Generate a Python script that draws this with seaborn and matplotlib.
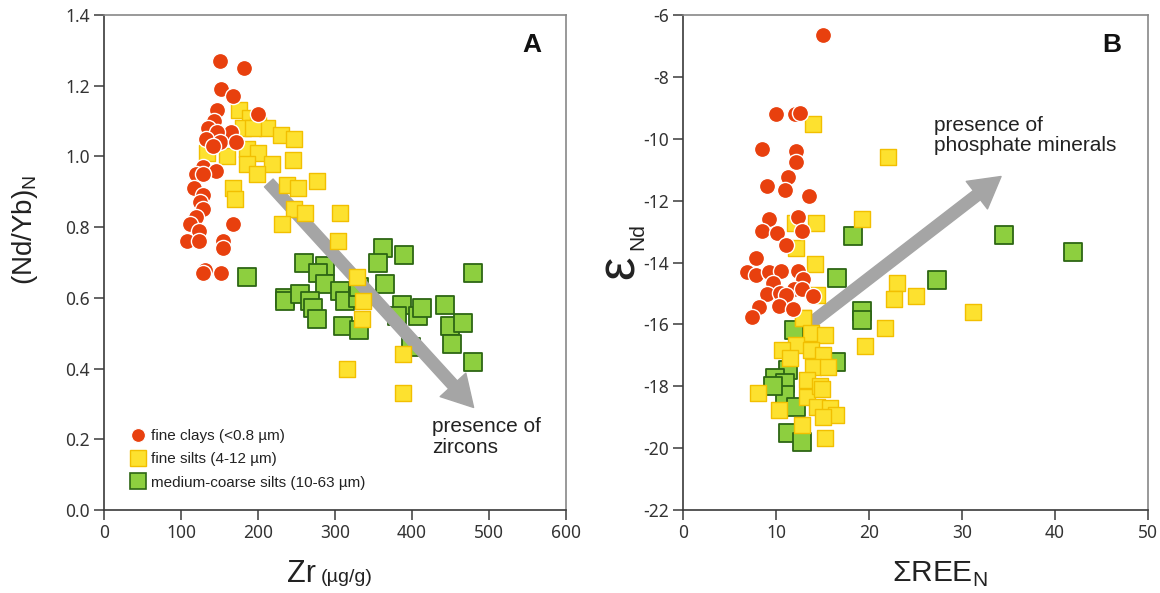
import matplotlib
matplotlib.use("Agg")
import matplotlib.pyplot as plt
import seaborn as sns
import pandas as pd
from matplotlib.lines import Line2D

sns.set_style("white")
plt.rcParams['font.family'] = ['Liberation Sans', 'DejaVu Sans']
plt.rcParams['axes.unicode_minus'] = False

# ---------------- data ----------------
zr_clay = [151, 182, 152, 167, 147, 200, 143, 135, 165, 147, 132, 151, 171, 142, 129, 145, 120,
           129, 117, 129, 125, 129, 120, 167, 112, 123, 108, 123, 155, 155, 131, 152, 129]
ndyb_clay = [1.27, 1.25, 1.19, 1.17, 1.13, 1.12, 1.10, 1.08, 1.07, 1.07, 1.05, 1.04, 1.04, 1.03,
             0.97, 0.96, 0.95, 0.95, 0.91, 0.89, 0.87, 0.85, 0.83, 0.81, 0.81, 0.79, 0.76, 0.76,
             0.76, 0.74, 0.68, 0.67, 0.67]

zr_fsilt = [175, 190, 200, 212, 181, 194, 230, 247, 134, 160, 186, 200, 186, 218, 246, 199, 168,
            170, 238, 252, 277, 247, 261, 231, 304, 329, 336, 335, 388, 316, 388, 307]
ndyb_fsilt = [1.13, 1.11, 1.09, 1.08, 1.08, 1.08, 1.06, 1.05, 1.01, 1.00, 1.02, 1.01, 0.98, 0.98,
              0.99, 0.95, 0.91, 0.88, 0.92, 0.91, 0.93, 0.85, 0.84, 0.81, 0.76, 0.66, 0.59, 0.54,
              0.44, 0.40, 0.33, 0.84]

zr_msilt = [186, 260, 287, 278, 287, 362, 356, 390, 479, 235, 235, 255, 268, 271, 277, 307, 313,
            310, 331, 330, 331, 365, 387, 381, 408, 413, 443, 449, 466, 452, 399, 479]
ndyb_msilt = [0.66, 0.70, 0.69, 0.67, 0.64, 0.74, 0.70, 0.72, 0.67, 0.60, 0.59, 0.61, 0.59, 0.57,
              0.54, 0.62, 0.59, 0.52, 0.51, 0.60, 0.63, 0.64, 0.58, 0.55, 0.55, 0.57, 0.58, 0.52,
              0.53, 0.47, 0.46, 0.42]

ree_clay = [15.0, 10.0, 12.0, 12.6, 8.5, 12.1, 12.2, 11.3, 9.0, 11.0, 13.5, 9.3, 12.4, 8.5, 10.1,
            12.8, 11.1, 7.9, 6.9, 7.9, 9.2, 10.5, 12.4, 12.9, 9.7, 9.0, 10.4, 11.9, 12.8, 14.0,
            11.1, 8.2, 10.3, 11.8, 7.4]
end_clay = [-6.65, -9.21, -9.21, -9.16, -10.34, -10.40, -10.74, -11.23, -11.52, -11.66, -11.85,
            -12.60, -12.54, -12.98, -13.06, -12.98, -13.43, -13.86, -14.32, -14.40, -14.32,
            -14.26, -14.26, -14.54, -14.65, -15.02, -14.98, -14.87, -14.87, -15.07, -15.05,
            -15.43, -15.40, -15.51, -15.75]

ree_fsilt = [14.0, 14.3, 12.0, 19.2, 22.0, 12.2, 14.2, 14.4, 12.9, 23.0, 22.7, 25.1, 31.2, 21.7,
             19.6, 12.9, 13.8, 15.3, 12.2, 10.6, 13.8, 15.1, 11.5, 14.0, 15.6, 8.1, 13.3, 13.3,
             14.7, 10.3, 14.4, 15.8, 16.5, 15.1, 12.8, 15.3, 14.9]
end_fsilt = [-9.53, -12.73, -12.73, -12.60, -10.58, -13.54, -14.06, -15.05, -15.78, -14.65,
             -15.18, -15.07, -15.60, -16.13, -16.70, -15.80, -16.29, -16.34, -16.67, -16.83,
             -16.83, -16.99, -17.10, -17.39, -17.39, -18.23, -17.80, -18.34, -18.00, -18.77,
             -18.66, -18.71, -18.93, -18.98, -19.25, -19.68, -18.10]

ree_msilt = [18.3, 34.5, 41.9, 16.6, 27.3, 19.3, 19.3, 16.5, 11.9, 11.3, 9.9, 11.0, 11.0, 12.2,
             11.3, 12.8, 9.7]
end_msilt = [-13.14, -13.11, -13.65, -14.49, -14.56, -15.56, -15.86, -17.20, -16.18, -17.47,
             -17.74, -17.90, -18.28, -18.66, -19.52, -19.79, -18.00]

labels = ["fine clays (<0.8 µm)", "fine silts (4-12 µm)", "medium-coarse silts (10-63 µm)"]

# ---------------- styles ----------------
RED, RED_E = "#e8400e", "white"
YEL, YEL_E = "#fde12f", "#f2bf00"
GRN, GRN_E = "#8dcf3f", "#2d6614"
ARROW = "#a5a5a5"
TICKC = "#333333"

fig = plt.figure(figsize=(11.6, 5.93), dpi=100)
axA = fig.add_axes([104/1160, 83/593, 462/1160, 495/593])
axB = fig.add_axes([683/1160, 83/593, 465/1160, 495/593])


def style_axes(ax):
    for s in ["left", "bottom"]:
        ax.spines[s].set_color("#3a3a3a")
        ax.spines[s].set_linewidth(1.2)
    for s in ["top", "right"]:
        ax.spines[s].set_color("#888888")
        ax.spines[s].set_linewidth(1.2)
    ax.tick_params(axis="both", direction="out", length=7, width=1.1, color="#3a3a3a",
                   labelsize=12.5, labelcolor=TICKC, left=True, bottom=True,
                   top=False, right=False, pad=3)
    for lab in ax.get_xticklabels() + ax.get_yticklabels():
        lab.set_family(["Noto Sans", "DejaVu Sans"])


def scatter_groups(ax, groups, arrow):
    # draw order: green, arrow, yellow, red
    (xg, yg), (xy, yy), (xr, yr) = groups
    sns.scatterplot(x=xg, y=yg, ax=ax, marker="s", s=150, color=GRN, edgecolor=GRN_E,
                    linewidth=1.3, legend=False, zorder=3)
    ax.annotate("", xy=arrow[1], xytext=arrow[0],
                arrowprops=dict(arrowstyle="simple,head_width=1.25,head_length=1.1,tail_width=0.42",
                                color=ARROW, mutation_scale=20, shrinkA=0, shrinkB=0),
                zorder=4)
    sns.scatterplot(x=xy, y=yy, ax=ax, marker="s", s=145, color=YEL, edgecolor=YEL_E,
                    linewidth=1.0, legend=False, zorder=5)
    sns.scatterplot(x=xr, y=yr, ax=ax, marker="o", s=135, color=RED, edgecolor=RED_E,
                    linewidth=1.0, legend=False, zorder=6)


# ---------------- panel A ----------------
scatter_groups(axA, [(zr_msilt, ndyb_msilt), (zr_fsilt, ndyb_fsilt), (zr_clay, ndyb_clay)],
               [(214, 0.925), (480, 0.29)])
axA.set_xlim(0, 600)
axA.set_ylim(0, 1.4)
axA.set_xticks(range(0, 601, 100))
axA.set_yticks([i * 0.2 for i in range(8)])
axA.set_yticklabels([f"{i * 0.2:.1f}" for i in range(8)])
axA.set_xlabel("")
axA.set_ylabel("")
style_axes(axA)

axA.text(-0.172, 0.566, r"(Nd/Yb)$_\mathregular{N}$", transform=axA.transAxes, rotation=90,
         ha="center", va="center", fontsize=20, color="#222222")
axA.text(0.458, -0.146, "Zr", transform=axA.transAxes, ha="right", va="baseline",
         fontsize=22, color="#222222")
axA.text(0.470, -0.146, "(µg/g)", transform=axA.transAxes, ha="left", va="baseline",
         fontsize=14, color="#222222")
axA.text(0.925, 0.94, "A", transform=axA.transAxes, ha="center", va="center",
         fontsize=19, fontweight="bold", color="#111111")
axA.text(426, 0.262, "presence of\nzircons", ha="left", va="top", fontsize=15,
         color="#222222", linespacing=1.1, zorder=7)

handles = [
    Line2D([], [], linestyle="none", marker="o", markersize=10, markerfacecolor=RED,
           markeredgecolor=RED_E, markeredgewidth=0.8),
    Line2D([], [], linestyle="none", marker="s", markersize=12, markerfacecolor=YEL,
           markeredgecolor=YEL_E, markeredgewidth=1.0),
    Line2D([], [], linestyle="none", marker="s", markersize=12, markerfacecolor=GRN,
           markeredgecolor=GRN_E, markeredgewidth=1.2),
]
leg = axA.legend(handles, labels, loc="upper left", bbox_to_anchor=(0.055, 0.163),
                 frameon=False, fontsize=11, handletextpad=0.3, labelspacing=0.6,
                 borderaxespad=0, borderpad=0, handlelength=1.1)
for t in leg.get_texts():
    t.set_color("#222222")

# ---------------- panel B ----------------
scatter_groups(axB, [(ree_msilt, end_msilt), (ree_fsilt, end_fsilt), (ree_clay, end_clay)],
               [(13.8, -15.95), (34.2, -11.22)])
axB.set_xlim(0, 50)
axB.set_ylim(-22, -6)
axB.set_xticks(range(0, 51, 10))
axB.set_yticks(range(-22, -5, 2))
axB.set_xlabel("")
axB.set_ylabel("")
style_axes(axB)

axB.text(-0.137, 0.49, "ε", transform=axB.transAxes, rotation=90, ha="center", va="center",
         fontsize=38, color="#222222")
axB.text(-0.098, 0.552, "Nd", transform=axB.transAxes, rotation=90, ha="center", va="center",
         fontsize=15, color="#222222")
axB.text(0.553, -0.146, r"ΣREE$_\mathregular{N}$", transform=axB.transAxes, ha="center",
         va="baseline", fontsize=21.5, color="#222222")
axB.text(0.923, 0.94, "B", transform=axB.transAxes, ha="center", va="center",
         fontsize=19, fontweight="bold", color="#111111")
axB.text(27.0, -9.25, "presence of\nphosphate minerals", ha="left", va="top", fontsize=15,
         color="#222222", linespacing=1.1, zorder=7)

fig.savefig("out.png", dpi=100, facecolor="white")
